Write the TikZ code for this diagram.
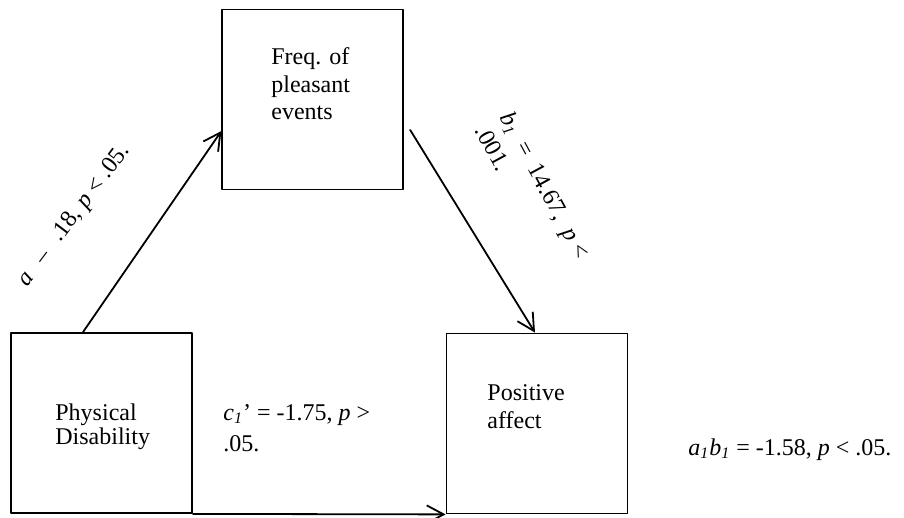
\documentclass[tikz,border=0pt]{standalone}
\usepackage{fontspec}
\setmainfont{Liberation Serif}
\usetikzlibrary{arrows.meta}

\begin{document}
\begin{tikzpicture}[x=0.5pt, y=-0.5pt, line cap=round, line join=round,
    >={Straight Barb[length=8.5pt,width=9pt]},
    box/.style={draw, line width=0.9pt, minimum width=90.5pt, minimum height=90pt, inner sep=0pt},
    txt/.style={inner sep=0pt, align=left, font=\fontsize{12}{13.8}\selectfont},
    link/.style={->, line width=0.9pt}]
    % page of the picture
    \useasboundingbox (0,0) rectangle (904,518);

    % The three variable boxes
    \node[box] (freq) at (312.8,99.5) {};
    \node[box] (disab) at (101.5,423) {};
    \node[box] (affect) at (537,423.5) {};

    % Texts inside the boxes (base = last line)
    \node[txt, anchor=base west] (freqtxt) at (271,120) {Freq. of\\pleasant\\events};
    \node[txt, anchor=base west, font=\fontsize{12}{9.4}\selectfont] (disabtxt) at (55,444) {Physical\\Disability};
    \node[txt, anchor=base west] (affecttxt) at (487,428.5) {Positive\\affect};

    % Paths between the boxes
    \draw[link] ([xshift=-9.25pt]disab.north) -- ([yshift=-15.75pt]freq.west);
    \draw[link] ([xshift=3pt,yshift=-15.25pt]freq.east) -- ([xshift=-1pt]affect.north);
    \draw[link] (disab.south east) -- (affect.south west);

    % Path coefficients
    \node[txt, anchor=base west, rotate=53] (alab) at (27,288) {\textit{a}\hspace{8pt}–\hspace{8pt}.18, \textit{p} < .05.};
    \node[txt, anchor=base west, rotate=-61.5, font=\fontsize{12}{14}\selectfont] (blab) at (474.5,130.5) {\textit{b}\textsubscript{\textit{1}}\hspace{6pt}=\hspace{6pt}14.67,\hspace{6pt}\textit{p} <\\.001.};
    \node[txt, anchor=base west, font=\fontsize{12}{15.5}\selectfont] (clab) at (223,451) {\textit{c}\textsubscript{\textit{1}}’ = -1.75, \textit{p} >\\.05.};
    \node[txt, anchor=base west] (ablab) at (688,455) {\textit{a}\textsubscript{\textit{1}}\textit{b}\textsubscript{\textit{1}} = -1.58, \textit{p} < .05.};
\end{tikzpicture}
\end{document}
